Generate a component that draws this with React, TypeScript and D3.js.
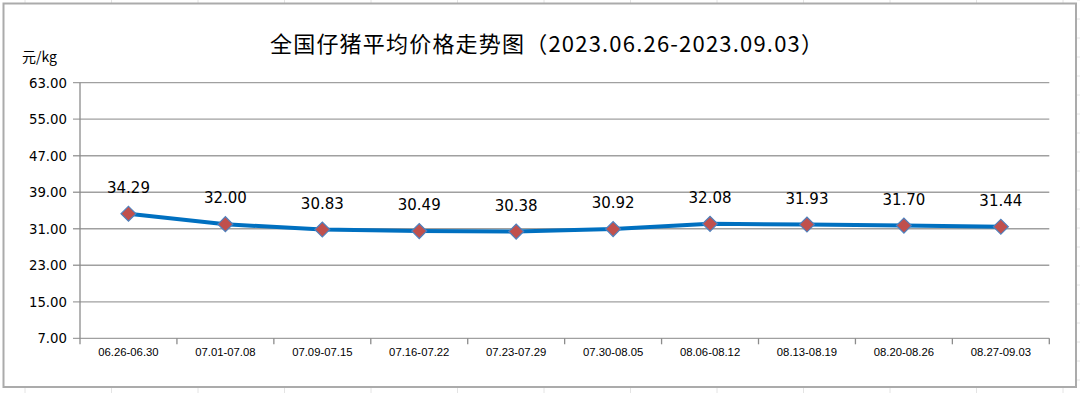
import * as d3 from "d3";

const categories = [
  "06.26-06.30",
  "07.01-07.08",
  "07.09-07.15",
  "07.16-07.22",
  "07.23-07.29",
  "07.30-08.05",
  "08.06-08.12",
  "08.13-08.19",
  "08.20-08.26",
  "08.27-09.03",
];
const prices = [34.29, 32.0, 30.83, 30.49, 30.38, 30.92, 32.08, 31.93, 31.7, 31.44];
const yTicks = [7, 15, 23, 31, 39, 47, 55, 63];
const title = "全国仔猪平均价格走势图（2023.06.26-2023.09.03）";
const unit = "元/kg";

const width = 1080;
const height = 393;
const plot = { left: 80, right: 1049.3, top: 82.7, bottom: 338.3 };
const sheetCols = [25, 111.5, 198, 284.5, 371, 457.5, 544, 630.5, 717, 803.5, 890, 976.5, 1063];

export default function App() {
  const x = d3.scaleBand().domain(categories).range([plot.left, plot.right]);
  const y = d3.scaleLinear().domain([7, 63]).range([plot.bottom, plot.top]);
  const cx = (c: string) => (x(c) ?? 0) + x.bandwidth() / 2;
  const points = categories.map((c, i) => [cx(c), y(prices[i])] as [number, number]);
  const line = d3.line()(points) ?? "";
  const diamond = d3.symbol().type(d3.symbolSquare).size(112)() ?? "";
  const bounds = [...categories.map((c) => x(c) ?? 0), plot.right];

  return (
    <svg width={width} height={height} style={{ position: "absolute", left: 0, top: 0, background: "#fff" }}>
      {/* faint sheet cells outside the chart box */}
      {sheetCols.map((sx) => (
        <g key={sx}>
          <line x1={sx} x2={sx} y1={0} y2={3} stroke="#e4e4e4" />
          <line x1={sx} x2={sx} y1={388} y2={393} stroke="#e4e4e4" />
        </g>
      ))}
      {d3.range(0, 393, 19).map((sy) => (
        <line key={sy} x1={1077} x2={1080} y1={sy} y2={sy} stroke="#e4e4e4" />
      ))}
      <rect x={3.5} y={3.5} width={1072.5} height={383.5} fill="#fff" stroke="#ababab" strokeWidth={2} />

      <text
        x={270}
        y={52}
        fontFamily="'Noto Sans CJK SC', sans-serif"
        fontSize={22}
        textLength={553}
        lengthAdjust="spacing"
        fill="#000"
      >
        {title}
      </text>
      <text x={22} y={62} fontFamily="'Noto Sans CJK SC', sans-serif" fontSize={14} fill="#000">
        {unit}
      </text>

      {yTicks.map((t) => (
        <g key={t}>
          <line x1={plot.left - 7} x2={plot.right} y1={y(t)} y2={y(t)} stroke="#a0a0a0" strokeWidth={1.3} />
          <text
            x={67}
            y={y(t) + 5}
            textAnchor="end"
            fontFamily="'DejaVu Sans', sans-serif"
            fontSize={13.3}
            fill="#000"
          >
            {t.toFixed(2)}
          </text>
        </g>
      ))}
      <line x1={plot.left} x2={plot.left} y1={plot.top} y2={plot.bottom} stroke="#8c8c8c" strokeWidth={1.3} />
      {bounds.map((b) => (
        <line key={b} x1={b} x2={b} y1={plot.bottom} y2={plot.bottom + 6} stroke="#8c8c8c" strokeWidth={1.3} />
      ))}
      {categories.map((c) => (
        <text
          key={c}
          x={cx(c)}
          y={plot.bottom + 18}
          textAnchor="middle"
          fontFamily="'Liberation Sans', Arial, sans-serif"
          fontSize={11.3}
          fill="#000"
        >
          {c}
        </text>
      ))}

      <path d={line} fill="none" stroke="#0070c0" strokeWidth={4} strokeLinejoin="round" />
      {points.map(([px, py], i) => (
        <g key={categories[i]}>
          <path
            d={diamond}
            transform={`translate(${px},${py}) rotate(45)`}
            fill="#c0504d"
            stroke="#4f81bd"
            strokeWidth={1.2}
          />
          <text
            x={px}
            y={py - 21}
            textAnchor="middle"
            fontFamily="'DejaVu Sans', sans-serif"
            fontSize={15}
            fill="#000"
          >
            {prices[i].toFixed(2)}
          </text>
        </g>
      ))}
    </svg>
  );
}
